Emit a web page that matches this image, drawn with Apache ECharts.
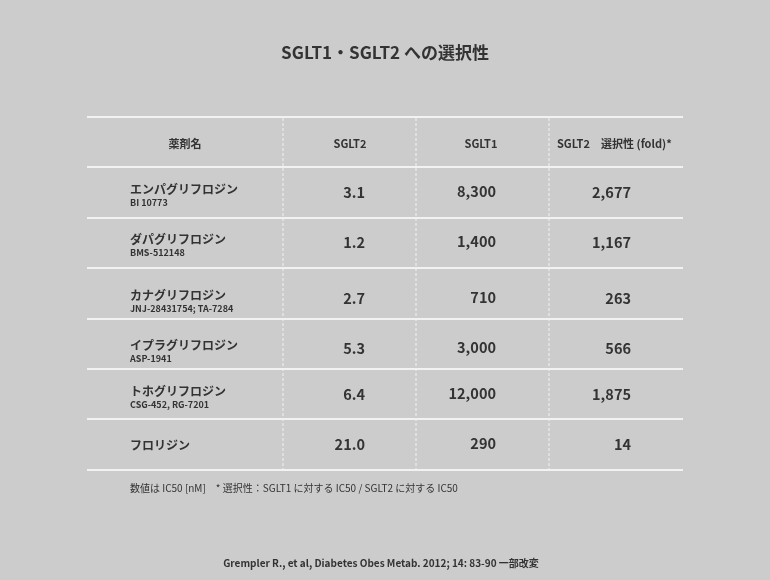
<!DOCTYPE html>
<html><head><meta charset="utf-8">
<script src="https://cdn.jsdelivr.net/npm/echarts@6/dist/echarts.min.js"></script>
<style>html,body{margin:0;background:#cccccc}#c{width:770px;height:580px}</style>
</head><body><div id="c"></div>
<script>
const headers = ['薬剤名','SGLT2','SGLT1','SGLT2　選択性 (fold)*'];
const drugNames = ['エンパグリフロジン','ダパグリフロジン','カナグリフロジン','イプラグリフロジン','トホグリフロジン','フロリジン'];
const drugCodes = ['BI 10773','BMS-512148','JNJ-28431754; TA-7284','ASP-1941','CSG-452, RG-7201',''];
const sglt2 = ['3.1','1.2','2.7','5.3','6.4','21.0'];
const sglt1 = ['8,300','1,400','710','3,000','12,000','290'];
const fold = ['2,677','1,167','263','566','1,875','14'];
const rowLines = [117,167,218,268,319,369,419,470];
const valueY = [192,242,298,348,394,444];
const nameY = [189,239,295,345,391,445];

const F = '"Noto Sans CJK JP","Noto Sans",sans-serif';
const C = '#333333';
const g = [];
rowLines.forEach(y => g.push({type:'line',shape:{x1:87,y1:y,x2:683,y2:y},style:{stroke:'#f2f2f2',lineWidth:2}}));
[283,416,549].forEach(x => g.push({type:'line',shape:{x1:x,y1:118,x2:x,y2:469},style:{stroke:'#f2f2f2',lineWidth:1,lineDash:[3,2]}}));
const hx=[185,350,481,557], ha=['center','center','center','left'];
headers.forEach((h,i)=>g.push({type:'text',x:hx[i],y:144,style:{text:h,font:'bold 11px '+F,fill:C,align:ha[i],verticalAlign:'middle'}}));
drugNames.forEach((n,i)=>{
  g.push({type:'text',x:130,y:nameY[i],style:{text:n,font:'bold 12px '+F,fill:C,verticalAlign:'middle'}});
  if(drugCodes[i]) g.push({type:'text',x:130,y:nameY[i]+14,style:{text:drugCodes[i],font:'bold 9px '+F,fill:C,verticalAlign:'middle'}});
  g.push({type:'text',x:365,y:valueY[i],style:{text:sglt2[i],font:'bold 14.5px '+F,fill:C,align:'right',verticalAlign:'middle'}});
  g.push({type:'text',x:496,y:valueY[i]-1,style:{text:sglt1[i],font:'bold 14.5px '+F,fill:C,align:'right',verticalAlign:'middle'}});
  g.push({type:'text',x:631,y:valueY[i],style:{text:fold[i],font:'bold 14.5px '+F,fill:C,align:'right',verticalAlign:'middle'}});
});
g.push({type:'text',x:130,y:488,style:{text:'数値は IC50 [nM]　* 選択性：SGLT1 に対する IC50 / SGLT2 に対する IC50',font:'10px '+F,fill:C,verticalAlign:'middle'}});
g.push({type:'text',x:381,y:563,style:{text:'Grempler R., et al, Diabetes Obes Metab. 2012; 14: 83-90 一部改変',font:'bold 10px '+F,fill:C,align:'center',verticalAlign:'middle'}});
const chart = echarts.init(document.getElementById('c'));
chart.setOption({
  backgroundColor:'#cccccc',
  title:{text:'SGLT1・SGLT2 への選択性',left:'center',top:39,textStyle:{fontFamily:F,fontSize:17,fontWeight:'bold',color:C}},
  graphic:g
});
</script></body></html>
